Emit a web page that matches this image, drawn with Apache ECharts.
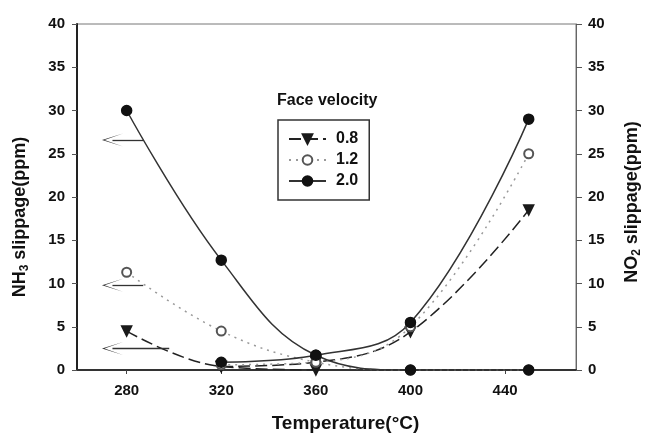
<!DOCTYPE html>
<html>
<head>
<meta charset="utf-8">
<script src="https://cdn.jsdelivr.net/npm/echarts@6/dist/echarts.min.js"></script>
<style>
  html, body { margin: 0; padding: 0; background: #fff; }
  #chart { width: 649px; height: 434px; }
</style>
</head>
<body>
<div id="chart"></div>
<script>
var temps = [280, 320, 360, 400, 450];
var xTicks = [280, 320, 360, 400, 440];

// NH3 slippage (left axis), decreasing with temperature
var nh3_08 = [4.5, 0.4, 0];
var nh3_12 = [11.3, 4.5, 0.9, 0, 0];
var nh3_20 = [30, 12.7, 1.7, 0, 0];

// NO2 slippage (right axis), from 320 up
var no2Temps = [320, 360, 400, 450];
var no2_08 = [0.4, 0.9, 4.4, 18.5];
var no2_12 = [0.6, 0.9, 5.0, 25];
var no2_20 = [0.9, 1.7, 5.5, 29];

// arrows showing which curves belong to the left axis: [y, from x, to x]
var arrows08 = [2.5, 298, 274];
var arrows12 = [9.8, 287, 274];
var arrows20 = [26.6, 287, 274];

function pairs(xs, ys) {
    return ys.map(function (y, i) { return [xs[i], y]; });
}
function arrow(a) {
    return [[{ coord: [a[1], a[0]] }, { coord: [a[2], a[0]] }]];
}

var font = 'Liberation Sans, Arial, sans-serif';
var arrowPath = 'path://M0,20 L8,0 L16,20 L8,2.5 Z';

var dom = document.getElementById('chart');
var myChart = echarts.init(dom);

var styles = {
    '0.8': { symbol: 'triangle', symbolRotate: 180, symbolSize: 10, color: '#1a1a1a',
             line: { color: '#222', width: 1.5, type: [12, 5] } },
    '1.2': { symbol: 'emptyCircle', symbolRotate: 0, symbolSize: 9, color: '#555',
             line: { color: '#999', width: 1.5, type: [2, 5] } },
    '2.0': { symbol: 'circle', symbolRotate: 0, symbolSize: 10, color: '#111',
             line: { color: '#333', width: 1.5, type: 'solid' } }
};

function makeSeries(name, data, yIndex, arrowData) {
    var s = styles[name];
    var ser = {
        name: name,
        type: 'line',
        yAxisIndex: yIndex,
        data: data,
        smooth: 0.4,
        symbol: s.symbol,
        symbolRotate: s.symbolRotate,
        symbolSize: s.symbolSize,
        showAllSymbol: true,
        itemStyle: { color: s.color, borderColor: s.color, borderWidth: 1.5 },
        lineStyle: s.line,
        emphasis: { disabled: true },
        z: 3
    };
    if (arrowData) {
        ser.markLine = {
            silent: true,
            symbol: ['none', arrowPath],
            symbolSize: [13, 21],
            label: { show: false },
            lineStyle: { color: '#333', width: 1.3, type: 'solid' },
            data: arrow(arrowData)
        };
    }
    return ser;
}

var subRich = {
    b: { fontFamily: font, fontSize: 18, fontWeight: 'bold', color: '#111' },
    s: { fontFamily: font, fontSize: 12, fontWeight: 'bold', color: '#111', padding: [9, 0, 0, 0] }
};

option = {
    backgroundColor: '#fff',
    animation: false,
    title: {
        text: 'Face velocity',
        left: 277,
        top: 93,
        padding: 0,
        textStyle: { fontFamily: font, fontSize: 16, fontWeight: 'bold', color: '#111' }
    },
    legend: {
        data: ['0.8', '1.2', '2.0'],
        orient: 'vertical',
        left: 278,
        top: 120,
        padding: [11, 11, 11, 10],
        itemGap: 5,
        itemWidth: 37,
        itemHeight: 12,
        borderColor: '#333',
        borderWidth: 1.5,
        selectedMode: false,
        textStyle: { fontFamily: font, fontSize: 16, fontWeight: 'bold', color: '#111', padding: [0, 0, 0, 5] }
    },
    grid: {
        left: 77, right: 73, top: 24, bottom: 64,
        outerBoundsMode: 'none',
        containLabel: false,
        show: true, borderColor: '#777', borderWidth: 1
    },
    xAxis: {
        type: 'value',
        min: 259,
        max: 470,
        name: 'Temperature(°C)',
        nameLocation: 'middle',
        nameGap: 44,
        nameTextStyle: { fontFamily: font, fontSize: 19, fontWeight: 'bold', color: '#111', padding: [0, 0, 0, 38] },
        axisLine: { lineStyle: { color: '#333', width: 2 } },
        axisTick: { show: true, length: 4, customValues: xTicks, lineStyle: { color: '#444' } },
        axisLabel: { customValues: xTicks, margin: 13, fontFamily: font, fontSize: 15, fontWeight: 'bold', color: '#111' },
        splitLine: { show: false }
    },
    yAxis: [{
        type: 'value',
        min: 0, max: 40, interval: 5,
        position: 'left',
        name: '{b|NH}{s|3}{b| slippage(ppm)}',
        nameLocation: 'middle',
        nameGap: 46,
        nameTextStyle: { padding: [0, 40, 0, 0], rich: subRich },
        axisLine: { show: true, lineStyle: { color: '#222', width: 2 } },
        axisTick: { show: true, length: 5, lineStyle: { color: '#555' } },
        axisLabel: { margin: 12, fontFamily: font, fontSize: 15, fontWeight: 'bold', color: '#111' },
        splitLine: { show: false }
    }, {
        type: 'value',
        min: 0, max: 40, interval: 5,
        position: 'right',
        name: '{b|NO}{s|2}{b| slippage(ppm)}',
        nameLocation: 'middle',
        nameGap: 46,
        nameTextStyle: { padding: [0, 10, 0, 0], rich: subRich },
        axisLine: { show: true, lineStyle: { color: '#666', width: 1 } },
        axisTick: { show: true, length: 6, lineStyle: { color: '#555' } },
        axisLabel: { margin: 12, fontFamily: font, fontSize: 15, fontWeight: 'bold', color: '#111' },
        splitLine: { show: false }
    }],
    series: [
        makeSeries('0.8', pairs(temps, nh3_08), 0, arrows08),
        makeSeries('1.2', pairs(temps, nh3_12), 0, arrows12),
        makeSeries('2.0', pairs(temps, nh3_20), 0, arrows20),
        makeSeries('0.8', pairs(no2Temps, no2_08), 1),
        makeSeries('1.2', pairs(no2Temps, no2_12), 1),
        makeSeries('2.0', pairs(no2Temps, no2_20), 1)
    ]
};

if (option && typeof option === "object") {
    myChart.setOption(option, true);
}
</script>
</body>
</html>
